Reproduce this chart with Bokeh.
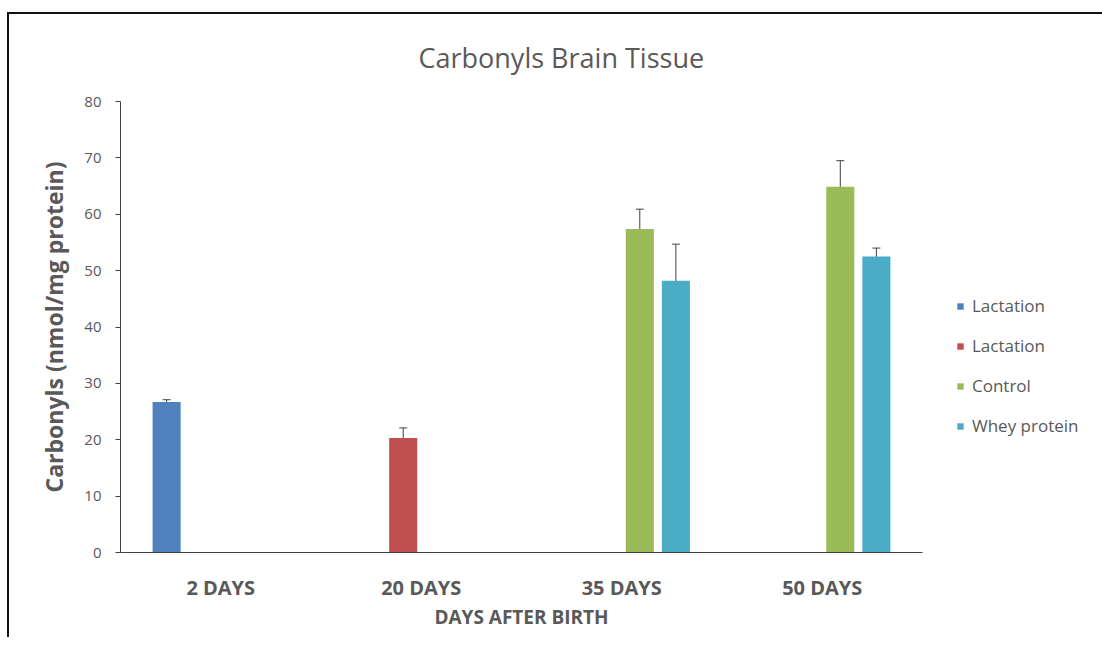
from bokeh.plotting import figure
from bokeh.models import (ColumnDataSource, FactorRange, Range1d, Whisker, TeeHead,
                          Legend, LegendItem, FixedTicker)
from bokeh.transform import dodge
from bokeh.embed import file_html
from bokeh.resources import INLINE

categories = ["2 DAYS", "20 DAYS", "35 DAYS", "50 DAYS"]

series_names = ["Lactation", "Lactation", "Control", "Whey protein"]
series_colors = ["#4F81BD", "#C0504D", "#9BBB59", "#4BACC6"]
series_offsets = [-0.27, -0.09, 0.09, 0.27]

lact1_cats = ["2 DAYS"]
lact1_vals = [26.7]
lact1_err = [0.4]

lact2_cats = ["20 DAYS"]
lact2_vals = [20.3]
lact2_err = [1.8]

control_cats = ["35 DAYS", "50 DAYS"]
control_vals = [57.4, 64.9]
control_err = [3.5, 4.6]

whey_cats = ["35 DAYS", "50 DAYS"]
whey_vals = [48.2, 52.5]
whey_err = [6.5, 1.5]

series = [
    (lact1_cats, lact1_vals, lact1_err),
    (lact2_cats, lact2_vals, lact2_err),
    (control_cats, control_vals, control_err),
    (whey_cats, whey_vals, whey_err),
]

FONT = "Open Sans"
GRAY = "#595959"

p = figure(frame_width=802, frame_height=451,
           x_range=FactorRange(*categories, range_padding=0),
           y_range=Range1d(0, 80), output_backend="svg", toolbar_location=None,
           min_border_left=111, min_border_right=172, min_border_top=87, min_border_bottom=85,
           title="Carbonyls Brain Tissue")

p.title.align = "left"
p.title.vertical_align = "top"
p.title.text_font = FONT
p.title.text_font_size = "27px"
p.title.text_font_style = "normal"
p.title.text_color = GRAY
p.title.standoff = 48
p.title.offset = 298

items = []
for i, (cats, vals, errs) in enumerate(series):
    src = ColumnDataSource(dict(
        x=cats, top=vals,
        upper=[v + e for v, e in zip(vals, errs)],
        lower=[v - e for v, e in zip(vals, errs)],
    ))
    xpos = dodge("x", series_offsets[i], range=p.x_range)
    r = p.vbar(x=xpos, top="top", bottom=0, width=0.14, source=src,
               fill_color=series_colors[i], line_color=None)
    w = Whisker(base=xpos, upper="upper", lower="lower", source=src,
                line_color="#404040", line_width=1,
                upper_head=TeeHead(size=8, line_color="#404040", line_width=1),
                lower_head=TeeHead(size=8, line_color="#404040", line_width=1))
    p.add_layout(w)
    items.append(LegendItem(label=series_names[i], renderers=[r]))

legend = Legend(items=items, location=(34, 115), orientation="vertical",
                label_text_font=FONT, label_text_font_size="17px", label_text_color=GRAY,
                glyph_width=8, glyph_height=8, label_standoff=8, spacing=17, label_height=22,
                border_line_color=None, background_fill_alpha=0, margin=0, padding=0)
p.add_layout(legend, "right")

p.xgrid.grid_line_color = None
p.ygrid.grid_line_color = None
p.outline_line_color = None

p.yaxis.ticker = FixedTicker(ticks=[0, 10, 20, 30, 40, 50, 60, 70, 80])
p.yaxis.minor_tick_line_color = None
p.yaxis.major_tick_out = 5
p.yaxis.major_tick_in = 0
p.yaxis.axis_line_color = "#404040"
p.yaxis.major_tick_line_color = "#404040"
p.yaxis.major_label_text_font = FONT
p.yaxis.major_label_text_font_size = "15px"
p.yaxis.major_label_text_color = GRAY
p.yaxis.major_label_standoff = 14
p.yaxis.axis_label = "Carbonyls (nmol/mg protein)"
p.yaxis.axis_label_text_font = FONT
p.yaxis.axis_label_text_font_size = "23px"
p.yaxis.axis_label_text_font_style = "bold"
p.yaxis.axis_label_text_color = GRAY
p.yaxis.axis_label_standoff = 11

p.xaxis.axis_line_color = "#404040"
p.xaxis.major_tick_line_color = None
p.xaxis.minor_tick_line_color = None
p.xaxis.major_label_text_font = FONT
p.xaxis.major_label_text_font_size = "20px"
p.xaxis.major_label_text_font_style = "bold"
p.xaxis.major_label_text_color = GRAY
p.xaxis.major_label_standoff = 15
p.xaxis.axis_label = "DAYS AFTER BIRTH"
p.xaxis.axis_label_text_font = FONT
p.xaxis.axis_label_text_font_size = "19px"
p.xaxis.axis_label_text_font_style = "bold"
p.xaxis.axis_label_text_color = GRAY
p.xaxis.axis_label_standoff = 0

p.styles = {"border-top": "2px solid #111111", "border-left": "2px solid #111111",
            "border-right": "none", "border-bottom": "none",
            "margin-left": "7px", "margin-top": "12px"}

open("out.html", "w").write(file_html(p, INLINE))
